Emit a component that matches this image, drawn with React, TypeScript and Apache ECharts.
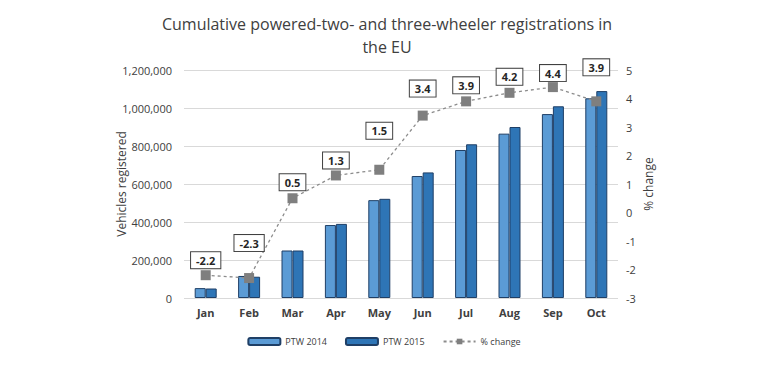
import React, { useEffect, useRef } from "react";
import * as echarts from "echarts";

const months = ["Jan", "Feb", "Mar", "Apr", "May", "Jun", "Jul", "Aug", "Sep", "Oct"];
const ptw2014 = [52000, 116000, 250000, 384000, 515000, 642000, 779000, 865000, 968000, 1051000];
const ptw2015 = [50000, 112000, 250000, 390000, 522000, 661000, 809000, 900000, 1009000, 1089000];
const pctChange = [-2.2, -2.3, 0.5, 1.3, 1.5, 3.4, 3.9, 4.2, 4.4, 3.9];
const leftTicks = { min: 0, max: 1200000, interval: 200000 };
const rightTicks = { min: -3, max: 5, interval: 1 };

const labelDy = [-15, -35, -16, -15, -39, -27, -16, -16, -14, -34];

const FONT = "'Open Sans', 'Noto Sans', sans-serif";

export default function App() {
  const ref = useRef<HTMLDivElement>(null);
  useEffect(() => {
    if (!ref.current) return;
    const chart = echarts.init(ref.current, null, { renderer: "svg" });
    const border = "#1F3F66";
    chart.setOption({
      animation: false,
      backgroundColor: "#ffffff",
      textStyle: { fontFamily: FONT },
      title: {
        text: "Cumulative powered-two- and three-wheeler registrations in\nthe EU",
        left: 382,
        textAlign: "center",
        top: 7,
        textStyle: { fontSize: 16, fontWeight: "normal", color: "#404040", lineHeight: 23, fontFamily: FONT },
      },
      legend: {
        top: 332,
        left: "center",
        itemWidth: 32,
        itemHeight: 7,
        itemGap: 18,
        textStyle: { fontSize: 9, color: "#404040", fontFamily: FONT },
        data: ["PTW 2014", "PTW 2015", "% change"],
      },
      grid: { left: 184, right: 150, top: 70, bottom: 87, outerBoundsMode: "none", containLabel: false },
      xAxis: {
        type: "category",
        data: months,
        axisLine: { show: false },
        axisTick: { show: false },
        axisLabel: { fontSize: 11, fontWeight: "bold", color: "#404040", margin: 9 },
      },
      yAxis: [
        {
          type: "value",
          min: leftTicks.min,
          max: leftTicks.max,
          interval: leftTicks.interval,
          name: "Vehicles registered",
          nameLocation: "middle",
          nameGap: 57,
          nameRotate: 90,
          nameMoveOverlap: false,
          nameTextStyle: { fontSize: 12, color: "#404040" },
          axisLine: { show: false },
          axisTick: { show: false },
          axisLabel: {
            fontSize: 11,
            color: "#404040",
            margin: 12,
            formatter: (v: number) => v.toLocaleString("en-US"),
          },
          splitLine: { lineStyle: { color: "#D9D9D9", width: 1 } },
        },
        {
          type: "value",
          min: rightTicks.min,
          max: rightTicks.max,
          interval: rightTicks.interval,
          name: "% change",
          nameLocation: "middle",
          nameGap: 24,
          nameRotate: 90,
          nameMoveOverlap: false,
          nameTextStyle: { fontSize: 12, color: "#404040" },
          axisLine: { show: false },
          axisTick: { show: false },
          axisLabel: { fontSize: 11, color: "#404040", margin: 8 },
          splitLine: { show: false },
        },
      ],
      series: [
        {
          name: "PTW 2014",
          type: "bar",
          data: ptw2014,
          barWidth: 11,
          barGap: "0%",
          itemStyle: { color: "#5B9BD5", borderColor: border, borderWidth: 1 },
        },
        {
          name: "PTW 2015",
          type: "bar",
          data: ptw2015,
          barWidth: 11,
          barGap: "0%",
          itemStyle: { color: "#2E75B6", borderColor: border, borderWidth: 1 },
        },
        {
          name: "% change",
          type: "line",
          yAxisIndex: 1,
          data: pctChange.map((v, i) => ({
            value: v,
            label: { offset: [0, labelDy[i]] },
          })),
          symbol: "rect",
          symbolSize: 10,
          itemStyle: { color: "#7F7F7F" },
          lineStyle: { color: "#8C8C8C", type: [3, 3], width: 1.3 },
          label: {
            show: true,
            position: "inside",
            formatter: (p: any) => p.value.toFixed(1),
            fontSize: 11,
            fontWeight: "bold",
            color: "#262626",
            backgroundColor: "#ffffff",
            borderColor: "#404040",
            borderWidth: 1,
            padding: [3, 5, 2, 5],
          },
          z: 5,
        },
      ],
    });
    return () => chart.dispose();
  }, []);
  return (
    <div
      ref={ref}
      style={{ position: "fixed", left: 0, top: 0, width: 768, height: 385, background: "#fff" }}
    />
  );
}
